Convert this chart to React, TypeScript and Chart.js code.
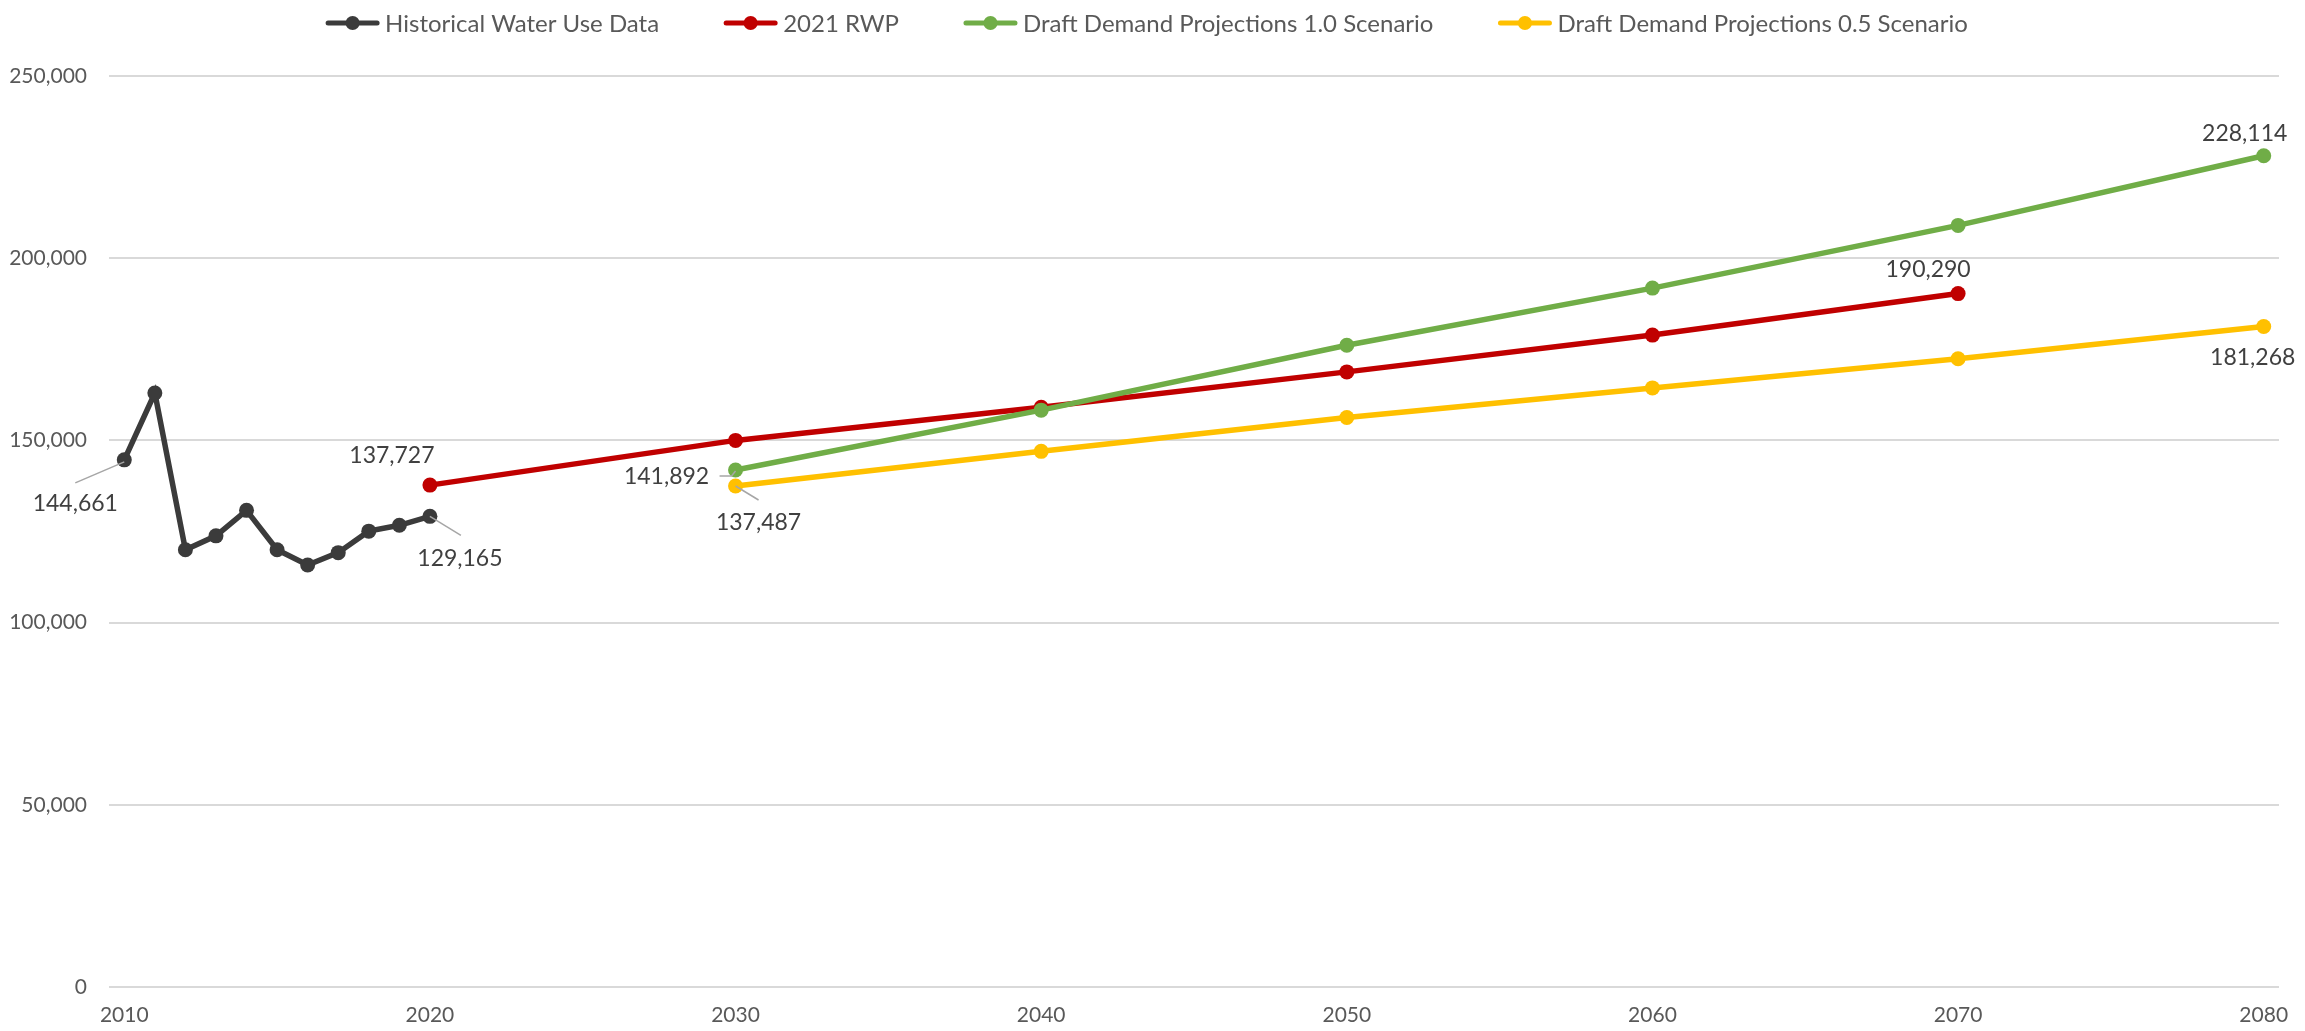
import React, { useEffect, useRef } from "react";
import { Chart, registerables } from "chart.js";

Chart.register(...registerables);

// ---------- data ----------
const histYears = [2010, 2011, 2012, 2013, 2014, 2015, 2016, 2017, 2018, 2019, 2020];
const histValues = [144661, 163000, 120000, 123800, 130800, 120000, 115800, 119200, 125100, 126700, 129165];

const rwpYears = [2020, 2030, 2040, 2050, 2060, 2070];
const rwpValues = [137727, 150000, 159100, 168800, 178900, 190290];

const scenarioYears = [2030, 2040, 2050, 2060, 2070, 2080];
const scen10Values = [141892, 158300, 176100, 191800, 209000, 228114];
const scen05Values = [137487, 147000, 156300, 164400, 172400, 181268];

const xTickYears = [2010, 2020, 2030, 2040, 2050, 2060, 2070, 2080];
const yTickValues = [0, 50000, 100000, 150000, 200000, 250000];

const seriesNames = [
  "Historical Water Use Data",
  "2021 RWP",
  "Draft Demand Projections 1.0 Scenario",
  "Draft Demand Projections 0.5 Scenario",
];
const seriesColors = ["#3B3B3B", "#C00000", "#70AD47", "#FFC000"];

// ---------- label styling (offsets in px from the point) ----------
const labelSpecs = [
  { ds: 0, i: 0, dx: -49, dy: 44, leader: [[0, 2], [-49, 23]] },
  { ds: 0, i: 10, dx: 30, dy: 42, leader: [[0, 0], [31, 19]] },
  { ds: 1, i: 0, dx: -38, dy: -30, leader: null },
  { ds: 1, i: 5, dx: -30, dy: -24, leader: null },
  { ds: 2, i: 0, dx: -69, dy: 7, leader: [[-16, 6], [-4, 6], [0, 1]] },
  { ds: 2, i: 5, dx: -19, dy: -22, leader: null },
  { ds: 3, i: 0, dx: 23, dy: 37, leader: [[0, 0], [23, 14]] },
  { ds: 3, i: 5, dx: -11, dy: 31, leader: null },
];

const FONT = "Lato, 'Open Sans', sans-serif";

const fmt = (v: number) => v.toLocaleString("en-US");

const dataLabelPlugin = {
  id: "dataLabels",
  afterDatasetsDraw(chart: any) {
    const ctx = chart.ctx;
    ctx.save();
    ctx.font = `23px ${FONT}`;
    ctx.textAlign = "center";
    ctx.textBaseline = "middle";
    for (const s of labelSpecs) {
      const meta = chart.getDatasetMeta(s.ds);
      const el = meta.data[s.i];
      if (!el) continue;
      const px = el.x;
      const py = el.y;
      if (s.leader) {
        ctx.strokeStyle = "#A6A6A6";
        ctx.lineWidth = 1.5;
        ctx.beginPath();
        s.leader.forEach((p: number[], k: number) => {
          if (k === 0) ctx.moveTo(px + p[0], py + p[1]);
          else ctx.lineTo(px + p[0], py + p[1]);
        });
        ctx.stroke();
      }
      const raw = chart.data.datasets[s.ds].data[s.i];
      ctx.fillStyle = "#404040";
      ctx.fillText(fmt(raw.y), px + s.dx, py + s.dy);
    }
    ctx.restore();
  },
};

const legendPlugin = {
  id: "customLegend",
  afterDraw(chart: any) {
    const ctx = chart.ctx;
    ctx.save();
    ctx.font = `24px ${FONT}`;
    const symW = 55;
    const gapText = 5;
    const gapItem = 64;
    const widths = seriesNames.map((n) => symW + gapText + ctx.measureText(n).width);
    const total = widths.reduce((a, b) => a + b, 0) + gapItem * (seriesNames.length - 1);
    let x = chart.width / 2 - total / 2 - 6;
    const y = 15;
    seriesNames.forEach((name, k) => {
      const c = seriesColors[k];
      ctx.strokeStyle = c;
      ctx.lineWidth = 5;
      ctx.lineCap = "round";
      ctx.beginPath();
      ctx.moveTo(x + 3, y);
      ctx.lineTo(x + symW - 3, y);
      ctx.stroke();
      ctx.fillStyle = c;
      ctx.beginPath();
      ctx.arc(x + symW / 2, y, 7, 0, Math.PI * 2);
      ctx.fill();
      ctx.fillStyle = "#595959";
      ctx.textAlign = "left";
      ctx.textBaseline = "middle";
      ctx.fillText(name, x + symW + gapText, y + 1);
      x += widths[k] + gapItem;
    });
    ctx.restore();
  },
};

const toPoints = (xs: number[], ys: number[]) => xs.map((x, i) => ({ x, y: ys[i] }));

export default function App() {
  const ref = useRef<HTMLCanvasElement | null>(null);

  useEffect(() => {
    if (!ref.current) return;
    const mk = (idx: number, xs: number[], ys: number[], order: number) => ({
      label: seriesNames[idx],
      data: toPoints(xs, ys),
      borderColor: seriesColors[idx],
      backgroundColor: seriesColors[idx],
      pointBackgroundColor: seriesColors[idx],
      pointBorderColor: seriesColors[idx],
      pointBorderWidth: 0,
      pointRadius: 7.5,
      borderWidth: 5.5,
      tension: 0,
      fill: false,
      order,
    });
    const chart = new Chart(ref.current, {
      type: "line",
      data: {
        datasets: [
          mk(0, histYears, histValues, 3),
          mk(1, rwpYears, rwpValues, 2),
          mk(2, scenarioYears, scen10Values, 1),
          mk(3, scenarioYears, scen05Values, 0),
        ],
      },
      options: {
        animation: false,
        responsive: true,
        maintainAspectRatio: false,
        layout: { padding: { top: 68, right: 18, left: 0, bottom: 0 } },
        plugins: {
          legend: { display: false },
          tooltip: { enabled: false },
        },
        scales: {
          x: {
            type: "linear",
            min: 2009.5,
            max: 2080.5,
            grid: { display: false },
            border: { display: false },
            afterBuildTicks: (axis: any) => {
              axis.ticks = xTickYears.map((v) => ({ value: v }));
            },
            afterFit: (axis: any) => {
              axis.height = 44;
            },
            ticks: {
              autoSkip: false,
              maxRotation: 0,
              padding: 8,
              color: "#595959",
              font: { family: FONT, size: 21 },
              callback: (v: any) => String(v),
            },
          },
          y: {
            min: 0,
            max: 250000,
            grid: { color: "#D9D9D9", lineWidth: 2, drawTicks: false },
            border: { display: false },
            afterBuildTicks: (axis: any) => {
              axis.ticks = yTickValues.map((v) => ({ value: v }));
            },
            afterFit: (axis: any) => {
              axis.width = 101;
            },
            ticks: {
              padding: 22,
              color: "#595959",
              font: { family: FONT, size: 21 },
              callback: (v: any) => fmt(Number(v)),
            },
          },
        },
      },
      plugins: [dataLabelPlugin, legendPlugin],
    });
    return () => chart.destroy();
  }, []);

  return (
    <div style={{ width: "100%", height: 1023, marginBottom: -8, position: "relative" }}>
      <canvas ref={ref} style={{ display: "block" }} />
    </div>
  );
}
